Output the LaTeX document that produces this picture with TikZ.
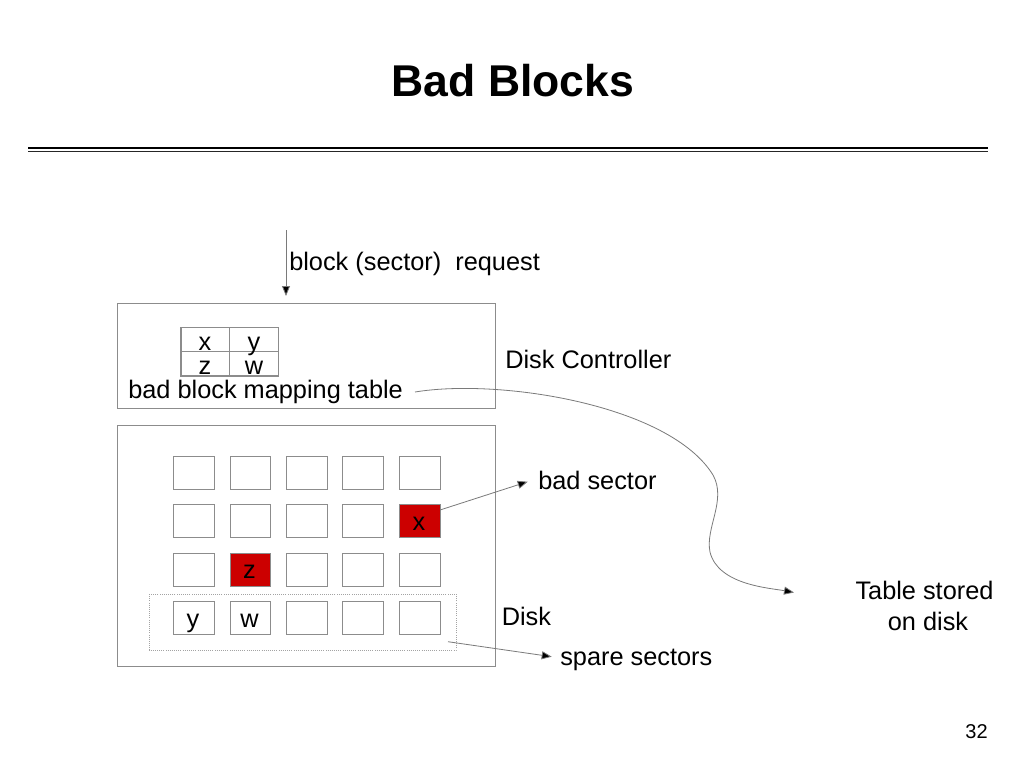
\documentclass[tikz,border=0pt]{standalone}
\usepackage{fontspec}
\setmainfont{Liberation Sans}
\usetikzlibrary{arrows.meta}
\definecolor{boxgray}{HTML}{8C8C8C}
\definecolor{linegray}{HTML}{7A7A7A}
\definecolor{badred}{HTML}{CC0000}
\tikzset{
  txt/.style={inner sep=0pt, font=\fontsize{19}{23}\selectfont},
  frame/.style={draw=boxgray, line width=0.8pt},
  cell/.style={draw=boxgray, line width=0.8pt, fill=white},
  badcell/.style={draw=boxgray, line width=0.8pt, fill=badred},
  conn/.style={draw=linegray, line width=0.6pt, -{Triangle[length=7.5pt,width=6pt,fill=black]}},
}
\begin{document}
\begin{tikzpicture}[x=0.75pt,y=-0.75pt]
\useasboundingbox (0,0) rectangle (1024,768);
\fill[white] (0,0) rectangle (1024,768);

% title
\node[inner sep=0pt, anchor=base, font=\fontsize{33.4}{38}\selectfont\bfseries] (title) at (513,96.7) {Bad Blocks};
\draw[line width=1.3pt] (28,148.3) -- (988,148.3);
\draw[line width=1pt, black!85] (28,151.6) -- (988,151.6);

% request
\coordinate (reqtop) at (286,230);
\coordinate (reqend) at (286,296);
\draw[conn] (reqtop) -- (reqend);
\node[txt, anchor=base west] (req) at (289,270) {block (sector)\ \ request};

% controller
\node[frame, minimum width=378*0.75pt, minimum height=105*0.75pt, anchor=north west, inner sep=0pt] (ctrl) at (117,303) {};
\draw[draw=boxgray, line width=0.8pt] (181,327.5) rectangle (278.3,376);
\draw[draw=boxgray, line width=0.8pt] (229.5,327.5) -- (229.5,376);
\draw[draw=boxgray, line width=0.8pt] (181,351.5) -- (278.3,351.5);
\node[txt, anchor=base] (tx) at (205,350) {x};
\node[txt, anchor=base] (ty) at (254,350) {y};
\node[txt, anchor=base] (tz) at (205,374) {z};
\node[txt, anchor=base] (tw) at (254,374) {w};
\node[txt, anchor=base west] (bbmt) at (128,398) {bad block mapping table};
\node[txt, anchor=base west] (dc) at (505,368) {Disk Controller};

% disk
\node[frame, minimum width=378*0.75pt, minimum height=241*0.75pt, anchor=north west, inner sep=0pt] (disk) at (117,425) {};
\draw[draw=boxgray!80, line width=0.6pt, densely dotted] (149,594) rectangle (456,650);
\foreach \r/\yt in {1/456,2/504,3/553,4/601}{
  \foreach \c/\xl in {1/173,2/229.5,3/286,4/342,5/399}{
    \ifnum\r\c=25
      \node[badcell, minimum width=40.5*0.75pt, minimum height=32.5*0.75pt, anchor=north west, inner sep=0pt] (s\r\c) at (\xl,\yt) {};
    \else\ifnum\r\c=32
      \node[badcell, minimum width=40.5*0.75pt, minimum height=32.5*0.75pt, anchor=north west, inner sep=0pt] (s\r\c) at (\xl,\yt) {};
    \else
      \node[cell, minimum width=40.5*0.75pt, minimum height=32.5*0.75pt, anchor=north west, inner sep=0pt] (s\r\c) at (\xl,\yt) {};
    \fi\fi
  }
}
\node[txt, anchor=base] (gx) at (419,530) {x};
\node[txt, anchor=base] (gz) at (249.5,578) {z};
\node[txt, anchor=base] (gy) at (193,627) {y};
\node[txt, anchor=base] (gw) at (249.5,627) {w};

\node[txt, anchor=base west] (bads) at (538,489) {bad sector};
\node[txt, anchor=base west] (dlab) at (501.5,625.7) {Disk};
\node[txt, anchor=base west] (spare) at (560,665) {spare sectors};
\node[txt, anchor=base, align=center] (tsd) at (924.5,630) {Table stored\\\ on disk};
\node[inner sep=0pt, anchor=base, font=\fontsize{15}{18}\selectfont] (pg) at (976.5,738.3) {32};

% connectors
\coordinate (bsstart) at (440,510);
\coordinate (bstip) at (527.7,481.7);
\draw[conn] (bsstart) -- (bstip);
\coordinate (spstart) at (448,641.7);
\coordinate (sptip) at (551.7,656.7);
\draw[conn] (spstart) -- (sptip);
\coordinate (cvstart) at (415,392);
\coordinate (cvtip) at (794,592.5);
\draw[conn] (cvstart) .. controls (500,378) and (670,405) .. (713,475)
  .. controls (727,500) and (705,528) .. (710,552)
  .. controls (718,585) and (770,588) .. (cvtip);
\end{tikzpicture}
\end{document}
